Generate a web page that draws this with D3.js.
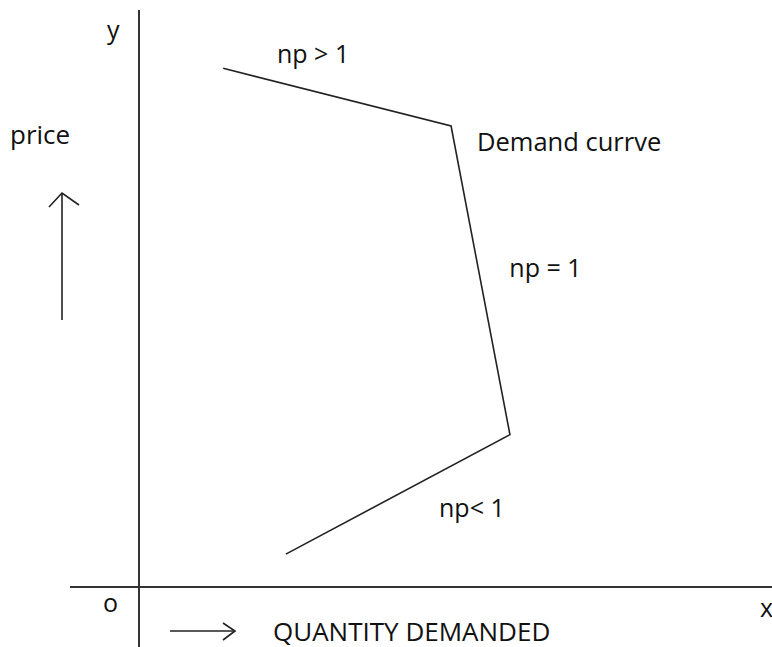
<!DOCTYPE html>
<html>
<head>
<meta charset="utf-8">
<script src="https://cdn.jsdelivr.net/npm/d3@7"></script>
<style>
  body { margin: 0; background: #fff; }
  svg text { font-family: "Open Sans", Lato, sans-serif; fill: #111; }
</style>
</head>
<body>
<svg id="chart"></svg>
<script>
let view_width = 772;
let view_height = 647;

// demand curve vertices (quantity, price) in chart units
let quantity = [13.3, 49.3, 58.6, 23.2];
let price = [89.9, 79.9, 26.4, 5.7];

// labels along the curve
let curve_labels = ['np > 1', 'Demand currve', 'np = 1', 'np< 1'];
let label_q = [21.8, 53.4, 58.5, 47.4];
let label_p = [90.8, 75.6, 53.8, 12.2];
let label_size = [25, 25.5, 25, 25];

let origin = {x: 139, y: 587};

let x = d3.scaleLinear()
  .domain([0, 100])
  .range([origin.x, view_width]);

let y = d3.scaleLinear()
  .domain([0, 100])
  .range([origin.y, 10]);

let svg = d3.select('#chart')
  .attr('width', view_width)
  .attr('height', view_height);

// axes
svg.append('line')
  .attr('x1', x(0)).attr('x2', x(0))
  .attr('y1', y(100)).attr('y2', view_height)
  .attr('stroke', '#333')
  .attr('stroke-width', 2);

svg.append('line')
  .attr('x1', 70).attr('x2', view_width)
  .attr('y1', y(0)).attr('y2', y(0))
  .attr('stroke', '#333')
  .attr('stroke-width', 2);

// demand curve
let line = d3.line()
  .x((d, i) => x(quantity[i]))
  .y((d, i) => y(price[i]));

svg.append('path')
  .datum(quantity)
  .attr('d', line)
  .attr('fill', 'none')
  .attr('stroke', '#222')
  .attr('stroke-width', 1.6);

svg.selectAll('.curve-label')
  .data(curve_labels)
  .enter().append('text')
  .attr('class', 'curve-label')
  .attr('x', (d, i) => x(label_q[i]))
  .attr('y', (d, i) => y(label_p[i]))
  .style('font-size', (d, i) => `${label_size[i]}px`)
  .text(d => d);

// axis letters
let axis_text = [
  {t: 'y', x: 107, y: 39, s: 25},
  {t: 'o', x: 103, y: 612, s: 25},
  {t: 'x', x: 760, y: 617, s: 25},
  {t: 'price', x: 10, y: 144, s: 26},
  {t: 'QUANTITY DEMANDED', x: 273, y: 641, s: 26}
];

svg.selectAll('.axis-text')
  .data(axis_text)
  .enter().append('text')
  .attr('class', 'axis-text')
  .attr('x', d => d.x)
  .attr('y', d => d.y)
  .style('font-size', d => `${d.s}px`)
  .text(d => d.t);

// direction arrows
let arrows = svg.append('g')
  .attr('fill', 'none')
  .attr('stroke', '#222')
  .attr('stroke-width', 1.6);

arrows.append('line')
  .attr('x1', 62).attr('x2', 62)
  .attr('y1', 320).attr('y2', 193);
arrows.append('polyline')
  .attr('points', '49,207 62,193 79,205');

arrows.append('line')
  .attr('x1', 170).attr('x2', 235)
  .attr('y1', 631).attr('y2', 631);
arrows.append('polyline')
  .attr('points', '223,623 235,631 223,640');
</script>
</body>
</html>
